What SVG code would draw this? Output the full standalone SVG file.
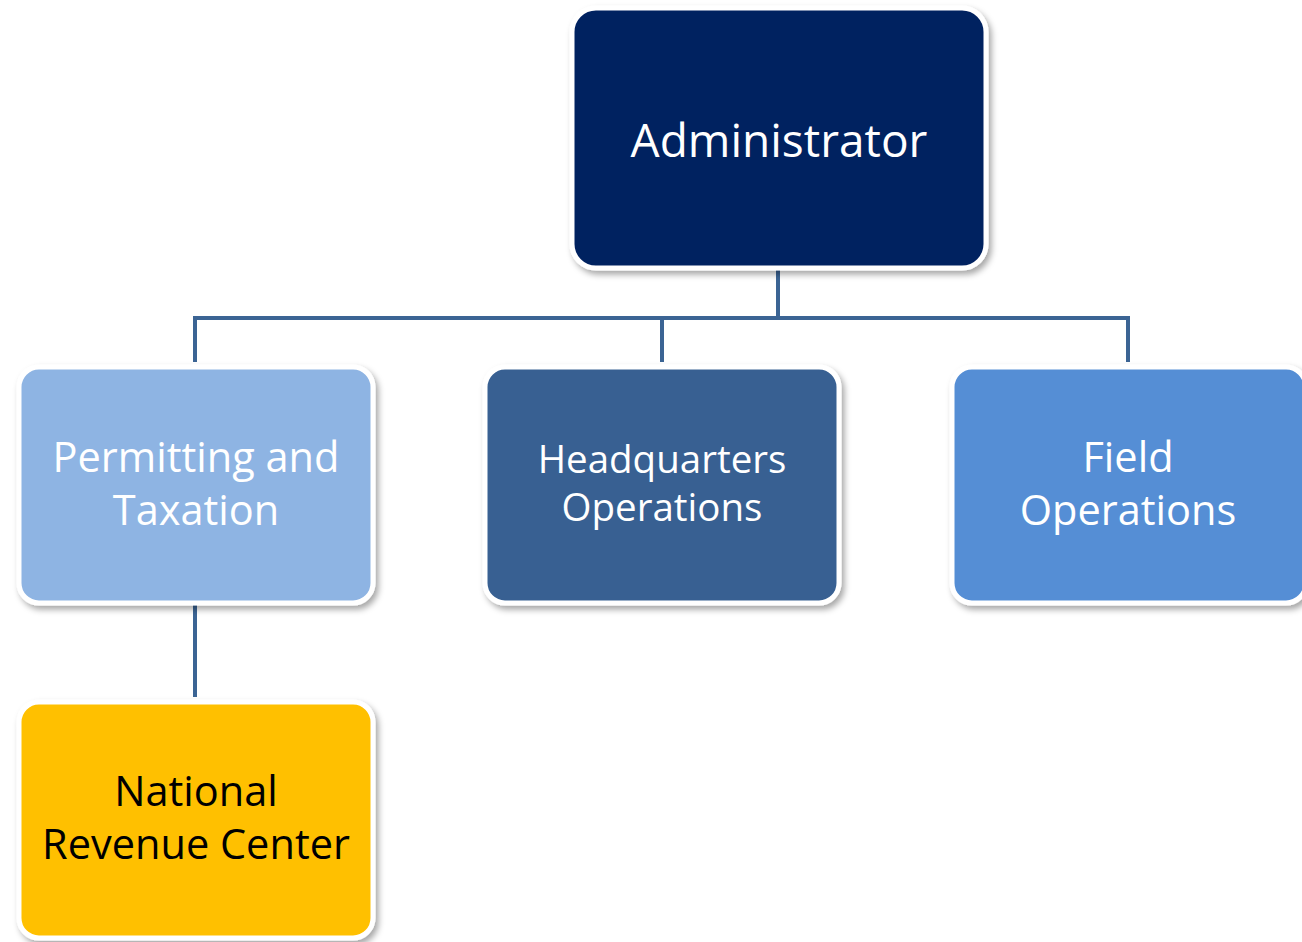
<svg xmlns="http://www.w3.org/2000/svg" width="1302" height="942" viewBox="0 0 1302 942">
<defs>
<filter id="sh" x="-10%" y="-10%" width="125%" height="130%">
<feDropShadow dx="3" dy="4" stdDeviation="3" flood-color="#000" flood-opacity="0.35"/>
</filter>
<style>
.box{stroke:#fff;stroke-width:5;filter:url(#sh)}
.t{font-family:"Open Sans","Liberation Sans",sans-serif;font-size:41.5px;text-anchor:middle}
.big{font-size:46px}
.sm{font-size:38.5px}
.w{fill:#fff}
.k{fill:#000}
.c{stroke:#3b6494;stroke-width:4;fill:none}
</style>
</defs>
<rect width="1302" height="942" fill="#fff"/>
<g id="connectors">
<path class="c" d="M778 268V318M195 318H1128M195 316V362M662 316V362M1128 316V362M195 604V697"/>
</g>
<g id="administrator">
<rect class="box" x="572" y="8" width="414" height="260" rx="24" fill="#002060"/>
<text class="t big w" x="779" y="157">Administrator</text>
</g>
<g id="permitting">
<rect class="box" x="19" y="367" width="354" height="236" rx="20" fill="#8eb4e3"/>
<text class="t w" x="196" y="472">Permitting and</text>
<text class="t w" x="196" y="525">Taxation</text>
</g>
<g id="hq">
<rect class="box" x="485" y="367" width="354" height="236" rx="20" fill="#376092"/>
<text class="t sm w" x="662" y="473">Headquarters</text>
<text class="t sm w" x="662" y="521">Operations</text>
</g>
<g id="field">
<rect class="box" x="952" y="367" width="354" height="236" rx="20" fill="#558ed5"/>
<text class="t w" x="1128" y="472">Field</text>
<text class="t w" x="1128" y="525">Operations</text>
</g>
<g id="nrc">
<rect class="box" x="19" y="702" width="354" height="236" rx="20" fill="#ffc000"/>
<text class="t k" x="196" y="806">National</text>
<text class="t k" x="196" y="859">Revenue Center</text>
</g>
</svg>
